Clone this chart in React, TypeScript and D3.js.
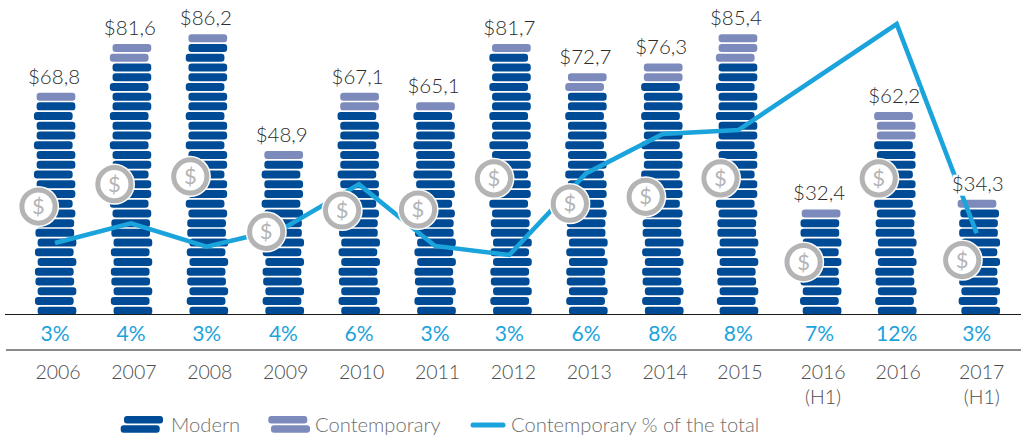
import React from "react";
import * as d3 from "d3";

const years = ["2006","2007","2008","2009","2010","2011","2012","2013","2014","2015","2016","2016","2017"];
const yearNotes = ["","","","","","","","","","","(H1)","","(H1)"];
const totals = ["$68,8","$81,6","$86,2","$48,9","$67,1","$65,1","$81,7","$72,7","$76,3","$85,4","$32,4","$62,2","$34,3"];
const modernCoins = [22,26,28,16,21,21,27,23,24,26,10,18,11];
const contemporaryCoins = [1,2,1,1,2,1,1,2,2,3,1,3,1];
const percentLabels = ["3%","4%","3%","4%","6%","3%","3%","6%","8%","8%","7%","12%","3%"];
const shareLine: (number|null)[] = [3.0,3.81,2.85,3.6,5.41,2.88,2.51,5.86,7.48,7.64,null,12,3.4];
const barSlots = [0,1,2,3,4,5,6,7,8,8.985,10.08,11.07,12.17];
const lineSlots = [-0.013,0.988,1.985,2.996,3.992,4.993,5.972,6.983,7.993,8.99,10.06,11.076,12.13];
const dollarRows = [10.7,13,13.8,8.1,10.3,10.4,13.6,11,11.7,13.6,5,13.6,5.2];
const lowerJog = [1,-1.7,1,-1.2,-1.7,1,-1.7,1,-1.2,-1.2];

const MODERN = "#004b96";
const CONTEMP = "#7d8abc";
const BLUE = "#1ba3dc";
const FONT = "Lato, 'Open Sans', sans-serif";

const x = d3.scaleLinear().domain([0, 1]).range([56, 131.9]);
const rowY = d3.scaleLinear().domain([0, 1]).range([310.7, 300.97]);
const shareY = d3.scaleLinear().domain([3, 12]).range([243, 24]);
const COIN_W = 38.7;
const COIN_H = 8;

function jog(i: number) {
  if (i < lowerJog.length) return lowerJog[i];
  return i % 3 === 2 ? -2.7 : 0;
}

function Legend() {
  const lt = { fontFamily: FONT, fontWeight: 300, fontSize: 20.2, fill: "#6f6f6f" } as const;
  return (
    <g>
      <rect x={124} y={416} width={39} height={7.5} rx={3} fill={MODERN} />
      <rect x={120.7} y={425.3} width={39} height={7.5} rx={3} fill={MODERN} />
      <text x={171} y={432} {...lt}>Modern</text>
      <rect x={268.3} y={416} width={39} height={7.5} rx={3} fill={CONTEMP} />
      <rect x={271} y={425.3} width={39} height={7.5} rx={3} fill={CONTEMP} />
      <text x={315} y={432} {...lt}>Contemporary</text>
      <line x1={473} x2={503} y1={425} y2={425} stroke={BLUE} strokeWidth={5} strokeLinecap="round" />
      <text x={511} y={432} {...lt}>Contemporary % of the total</text>
    </g>
  );
}

export default function App() {
  const pts = shareLine
    .map((v, i) => ({ v, s: lineSlots[i] }))
    .filter((p) => p.v !== null) as { v: number; s: number }[];
  const path = d3.line<{ v: number; s: number }>()
    .x((p) => x(p.s))
    .y((p) => shareY(p.v))(pts) as string;

  return (
    <svg width={1021} height={436} viewBox="0 0 1021 436"
      style={{ position: "absolute", left: 0, top: 0, display: "block", background: "#fff" }}>
      {years.map((_, b) => {
        const n = modernCoins[b] + contemporaryCoins[b];
        const cx = x(barSlots[b]);
        return (
          <g key={b}>
            {d3.range(n).map((i) => (
              <rect key={i}
                x={cx - COIN_W / 2 + jog(i)}
                y={rowY(i) - COIN_H / 2}
                width={COIN_W}
                height={COIN_H}
                rx={3.2}
                fill={i < modernCoins[b] ? MODERN : CONTEMP} />
            ))}
          </g>
        );
      })}

      <path d={path} fill="none" stroke={BLUE} strokeWidth={4.6} strokeLinejoin="miter" />

      {years.map((_, b) => {
        const cx = x(barSlots[b]) - 17.5;
        const cy = rowY(dollarRows[b]);
        return (
          <g key={b}>
            <circle cx={cx} cy={cy} r={20.6} fill="#fff" />
            <circle cx={cx} cy={cy} r={16.6} fill="#fff" stroke="#b4b4b4" strokeWidth={5} />
            <text x={cx} y={cy + 7.6} textAnchor="middle" fontFamily={FONT} fontSize={22} fill="#b4b4b4">$</text>
          </g>
        );
      })}

      {totals.map((t, b) => {
        const tx = x(barSlots[b]) - 2;
        const by = rowY(modernCoins[b] + contemporaryCoins[b] - 1) - 13;
        return (
          <g key={b}>
            <rect x={tx - 25} y={by - 16} width={50} height={21} fill="#fff" />
            <text x={tx} y={by} textAnchor="middle" fontFamily={FONT} fontWeight={300} fontSize={20.5} fill="#2b2b2b">{t}</text>
          </g>
        );
      })}

      <line x1={5} x2={1021} y1={314.5} y2={314.5} stroke="#1a1a1a" strokeWidth={1} />
      <line x1={6} x2={1021} y1={350} y2={350} stroke="#8c8c8c" strokeWidth={2} />

      {percentLabels.map((p, b) => (
        <text key={b} x={x(lineSlots[b])} y={341} textAnchor="middle" fontFamily={FONT} fontSize={21} fill={BLUE}>{p}</text>
      ))}

      {years.map((y, b) => (
        <g key={b} fontFamily={FONT} fontWeight={300} fontSize={19.5} fill="#4d4d4d" textAnchor="middle">
          <text x={x(barSlots[b]) + 2} y={379}>{y}</text>
          {yearNotes[b] && <text x={x(barSlots[b]) + 2} y={404}>{yearNotes[b]}</text>}
        </g>
      ))}

      <Legend />
    </svg>
  );
}
